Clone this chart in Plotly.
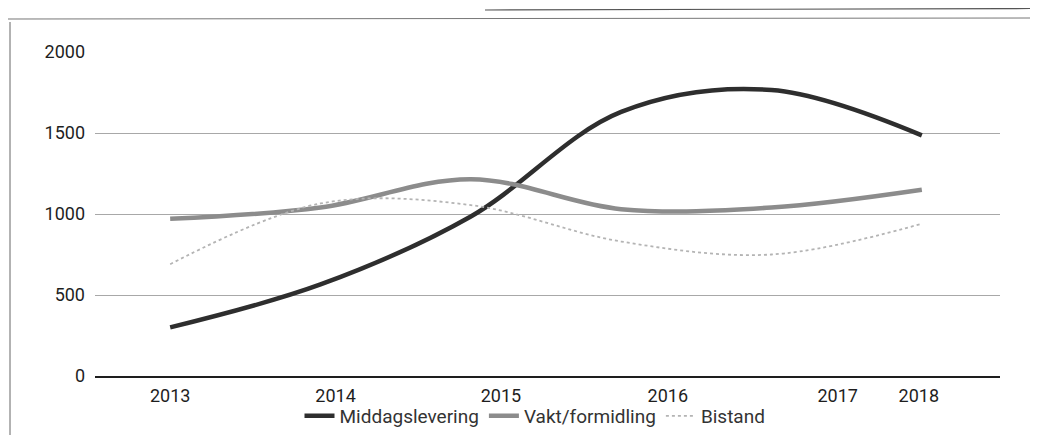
import plotly.graph_objects as go

years = [2013, 2014, 2015, 2016, 2017, 2018]
year_labels = ["2013", "2014", "2015", "2016", "2017", "2018"]
middagslevering = [300, 565, 985, 1630, 1765, 1485]
vakt_formidling = [970, 1040, 1215, 1030, 1040, 1150]
bistand = [690, 1065, 1055, 830, 750, 940]
y_ticks = [0, 500, 1000, 1500, 2000]

# the page body adds an 8px offset, so the figure is drawn 8px smaller
OFF = 8
W, H = 1038 - OFF, 435 - OFF
ML, MR, MT, MB = 95 - OFF, 38, 52 - OFF, 59
PW, PH = W - ML - MR, H - MT - MB

def px(x):  # reference-pixel x -> paper
    return (x - OFF - ML) / PW

def py(y):  # reference-pixel y -> paper
    return (H - MB - (y - OFF)) / PH

fig = go.Figure()
fig.add_trace(go.Scatter(x=years, y=middagslevering, name="Middagslevering", mode="lines",
                         line=dict(color="#2e2e2e", width=4.5, shape="spline")))
fig.add_trace(go.Scatter(x=years, y=vakt_formidling, name="Vakt/formidling", mode="lines",
                         line=dict(color="#8c8c8c", width=4.5, shape="spline")))
fig.add_trace(go.Scatter(x=years, y=bistand, name="Bistand", mode="lines",
                         line=dict(color="#b4b4b4", width=1.8, shape="spline", dash="dot")))

# label placement as in the reference (labels drift right of the data points)
label_shift = [0.0, 0.10, 0.20, 0.31, 0.44, -0.02]
tick_pos = [y + s for y, s in zip(years, label_shift)]

# scan frame decoration
shapes = [
    dict(type="line", xref="paper", yref="paper", x0=px(10), x1=px(10), y0=py(22), y1=py(435),
         line=dict(color="#666", width=1)),
    dict(type="line", xref="paper", yref="paper", x0=px(8), x1=px(1038), y0=py(19), y1=py(18),
         line=dict(color="#777", width=1)),
    dict(type="line", xref="paper", yref="paper", x0=px(485), x1=px(1038), y0=py(10), y1=py(8.5),
         line=dict(color="#555", width=1.2)),
]

fig.update_layout(
    width=W, height=H,
    margin=dict(l=ML, r=MR, t=MT, b=MB, autoexpand=False),
    paper_bgcolor="white", plot_bgcolor="white",
    font=dict(family="Roboto, Arial, sans-serif", color="#1e1e1e"),
    shapes=shapes,
    xaxis=dict(range=[2012.5, 2018.52], tickvals=tick_pos, ticktext=year_labels,
               showgrid=False, zeroline=False, showline=True, linecolor="#1e1e1e",
               linewidth=1.5, ticks="", tickfont=dict(size=18), ticklabelstandoff=3,
               automargin=False),
    yaxis=dict(range=[0, 2000], tickvals=y_ticks, showgrid=True, gridcolor="#a8a8a8",
               gridwidth=1, zeroline=False, ticks="", tickfont=dict(size=18),
               ticklabelstandoff=9, automargin=False),
    legend=dict(orientation="h", xref="container", yref="container",
                x=(535 - OFF) / W, xanchor="center", y=1 - (416 - OFF) / H, yanchor="middle",
                font=dict(size=19, color="#333"), itemwidth=30,
                bgcolor="rgba(0,0,0,0)"),
    showlegend=True,
)

fig.write_html("out.html")
